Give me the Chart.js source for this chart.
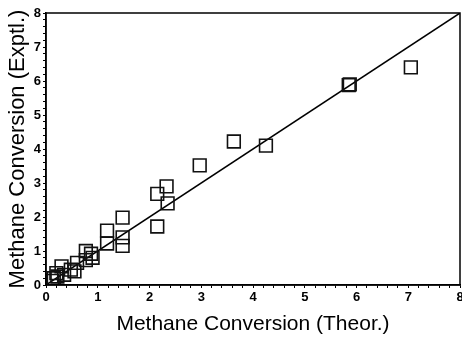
<!DOCTYPE html>
<html>
<head>
<meta charset="utf-8">
<script src="https://cdn.jsdelivr.net/npm/chart.js@4"></script>
<style>
	html, body { margin: 0; padding: 0; background: #fff; }
	#wrap { width: 462px; height: 337px; }
</style>
</head>
<body>
<div id="wrap"><canvas id="myChart" width="462" height="337"></canvas></div>
<script>
// methane conversion, theoretical vs experimental
const theor = [0.12, 0.15, 0.2, 0.22, 0.3, 0.35, 0.48, 0.55, 0.6, 0.77, 0.77, 0.87, 0.9, 1.18, 1.18, 1.48, 1.48, 1.48, 2.15, 2.15, 2.33, 2.35, 2.97, 3.63, 4.25, 5.85, 5.87, 7.05];
const exptl = [0.12, 0.2, 0.35, 0.25, 0.55, 0.3, 0.45, 0.4, 0.65, 1.0, 0.73, 0.92, 0.8, 1.6, 1.22, 1.98, 1.4, 1.15, 2.68, 1.72, 2.9, 2.4, 3.52, 4.22, 4.1, 5.88, 5.9, 6.4];
const parityLine = [0, 8];
const axisMin = 0;
const axisMax = 8;

const font = 'Liberation Sans, Arial, sans-serif';

// frame around the plot (top and right edges too)
const framePlugin = {
	id: 'frame',
	afterDraw(chart) {
		const a = chart.chartArea;
		const c = chart.ctx;
		c.save();
		c.strokeStyle = '#000';
		c.lineWidth = 1.5;
		c.strokeRect(a.left, a.top, a.right - a.left, a.bottom - a.top);
		c.restore();
	}
};

const tickCb = function (v) {
	return Math.abs(v - Math.round(v)) < 1e-6 ? String(Math.round(v)) : '';
};

const ctx = document.getElementById('myChart').getContext('2d');
const myChart = new Chart(ctx, {
	type: 'scatter',
	data: {
		datasets: [{
			label: 'Data',
			data: theor.map((x, i) => ({ x: x, y: exptl[i] })),
			pointStyle: 'rect',
			pointRadius: 9,
			backgroundColor: 'rgba(0,0,0,0)',
			borderColor: '#111',
			borderWidth: 1.6,
		}, {
			type: 'line',
			label: 'Parity',
			data: parityLine.map(v => ({ x: v, y: v })),
			borderColor: '#000',
			borderWidth: 1.5,
			pointRadius: 0,
			fill: false,
		}]
	},
	options: {
		animation: false,
		responsive: false,
		layout: { autoPadding: false, padding: { top: 13, right: 2, left: 0, bottom: 0 } },
		plugins: {
			legend: { display: false },
			tooltip: { enabled: false },
		},
		scales: {
			x: {
				type: 'linear',
				min: axisMin,
				max: axisMax,
				afterFit(s) { s.height = 52; s.paddingLeft = 0; s.paddingRight = 0; },
				ticks: {
					stepSize: 0.2,
					autoSkip: false,
					maxRotation: 0,
					callback: tickCb,
					color: '#000',
					padding: 2,
					font: { family: font, size: 13, weight: 'bold' },
				},
				grid: { drawOnChartArea: false, tickLength: 3, color: '#000' },
				border: { color: '#000', width: 1.5 },
				title: {
					display: true,
					text: 'Methane Conversion (Theor.)',
					color: '#000',
					font: { family: font, size: 21 },
					padding: { top: 2, bottom: 0 },
				},
			},
			y: {
				type: 'linear',
				min: axisMin,
				max: axisMax,
				afterFit(s) { s.width = 46; s.paddingTop = 0; s.paddingBottom = 0; },
				ticks: {
					stepSize: 0.2,
					autoSkip: false,
					callback: tickCb,
					color: '#000',
					padding: 2,
					font: { family: font, size: 13, weight: 'bold' },
				},
				grid: { drawOnChartArea: false, tickLength: 3, color: '#000' },
				border: { color: '#000', width: 1.5 },
				title: {
					display: true,
					text: 'Methane Conversion (Exptl.)',
					color: '#000',
					font: { family: font, size: 22 },
					padding: { top: 5, bottom: 0 },
				},
			}
		}
	},
	plugins: [framePlugin]
});
</script>
</body>
</html>
